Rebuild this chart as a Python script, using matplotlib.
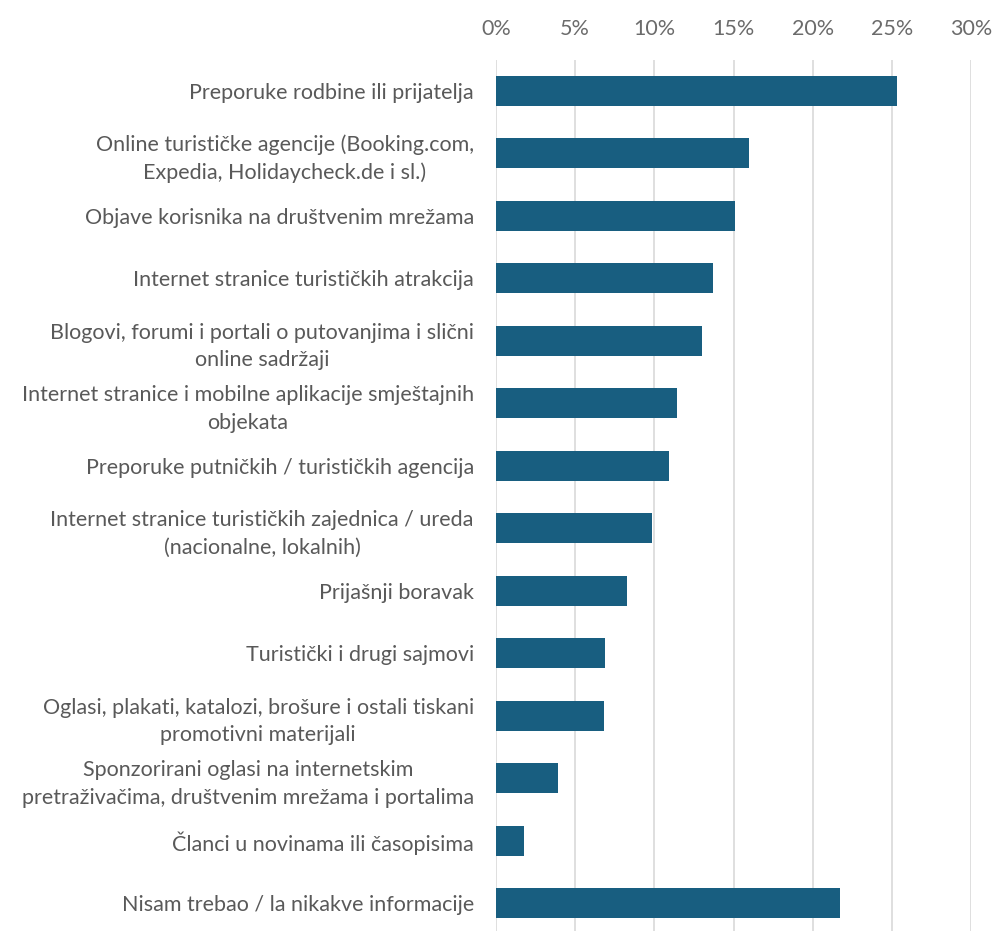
import matplotlib
matplotlib.use("Agg")
import matplotlib.pyplot as plt
from matplotlib.ticker import PercentFormatter

# Categories (top to bottom) and shares in %
categories = [
    "Preporuke rodbine ili prijatelja",
    "Online turističke agencije (Booking.com,\nExpedia, Holidaycheck.de i sl.)",
    "Objave korisnika na društvenim mrežama",
    "Internet stranice turističkih atrakcija",
    "Blogovi, forumi i portali o putovanjima i slični\nonline sadržaji",
    "Internet stranice i mobilne aplikacije smještajnih\nobjekata",
    "Preporuke putničkih / turističkih agencija",
    "Internet stranice turističkih zajednica / ureda\n(nacionalne, lokalnih)",
    "Prijašnji boravak",
    "Turistički i drugi sajmovi",
    "Oglasi, plakati, katalozi, brošure i ostali tiskani\npromotivni materijali",
    "Sponzorirani oglasi na internetskim\npretraživačima, društvenim mrežama i portalima",
    "Članci u novinama ili časopisima",
    "Nisam trebao / la nikakve informacije",
]
values = [25.3, 16.0, 15.1, 13.7, 13.0, 11.45, 10.9, 9.85, 8.3, 6.9, 6.8, 3.9, 1.75, 21.7]
x_ticks = [0, 5, 10, 15, 20, 25, 30]

plt.rcParams["font.family"] = ["Lato", "DejaVu Sans"]

fig = plt.figure(figsize=(9.93, 9.31), dpi=100)
ax = fig.add_axes([0.4995, -0.004, 0.4785, 0.94])

ypos = range(len(categories))
ax.barh(ypos, values, height=0.48, color="#185e80", zorder=3)

ax.set_xlim(0, 30)
ax.set_ylim(len(categories) - 0.5, -0.5)
ax.set_xticks(x_ticks)
ax.xaxis.set_major_formatter(PercentFormatter(decimals=0))
ax.xaxis.tick_top()
ax.tick_params(axis="x", length=0, pad=15, labelsize=15.5, labelcolor="#6b6b6b")
ax.tick_params(axis="y", length=0, pad=16, labelsize=15.5, labelcolor="#595959")
ax.set_yticks(list(ypos))
ax.set_yticklabels(categories, multialignment="center", linespacing=1.45)
ax.grid(axis="x", color="#d9d9d9", linewidth=1.2, zorder=0)
for s in ax.spines.values():
    s.set_visible(False)

fig.savefig("out.png", dpi=100, facecolor="white")
